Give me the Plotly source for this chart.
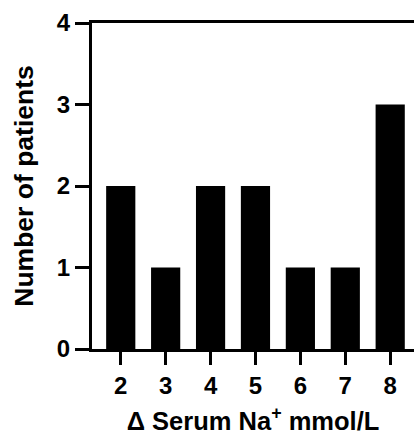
import plotly.graph_objects as go

categories = [2, 3, 4, 5, 6, 7, 8]
patients = [2, 1, 2, 2, 1, 1, 3]
y_ticks = [0, 1, 2, 3, 4]

font_family = "Arial, Liberation Sans, sans-serif"

fig = go.Figure(go.Bar(
    x=categories, y=patients, width=0.65,
    marker=dict(color="black", line=dict(width=0)),
))

fig.update_layout(
    width=414, height=435,
    margin=dict(l=92, r=0, t=23, b=86),
    paper_bgcolor="white", plot_bgcolor="white",
    showlegend=False,
    font=dict(family=font_family, color="black", size=24, weight="bold"),
    xaxis=dict(
        range=[1.36, 8.53], tickvals=categories, automargin=False,
        ticks="outside", ticklen=13, tickwidth=3, tickcolor="black",
        showline=True, linewidth=3, linecolor="black", mirror=True,
        showgrid=False, zeroline=False,
        tickfont=dict(size=24, weight="bold"),
        title=dict(text="Δ Serum Na<sup>+</sup> mmol/L", font=dict(size=25.5, weight="bold"), standoff=19),
    ),
    yaxis=dict(
        range=[0, 4], tickvals=y_ticks, automargin=False,
        ticks="outside", ticklen=14, tickwidth=3, tickcolor="black",
        showline=True, linewidth=3, linecolor="black",
        showgrid=False, zeroline=False,
        tickfont=dict(size=24, weight="bold"),
        title=dict(text="Number of patients", font=dict(size=26.5, weight="bold"), standoff=16),
    ),
)

fig.write_html(
    "out.html",
    config={"displayModeBar": False},
    post_script="document.body.style.margin='0';document.body.style.overflow='hidden';",
)
